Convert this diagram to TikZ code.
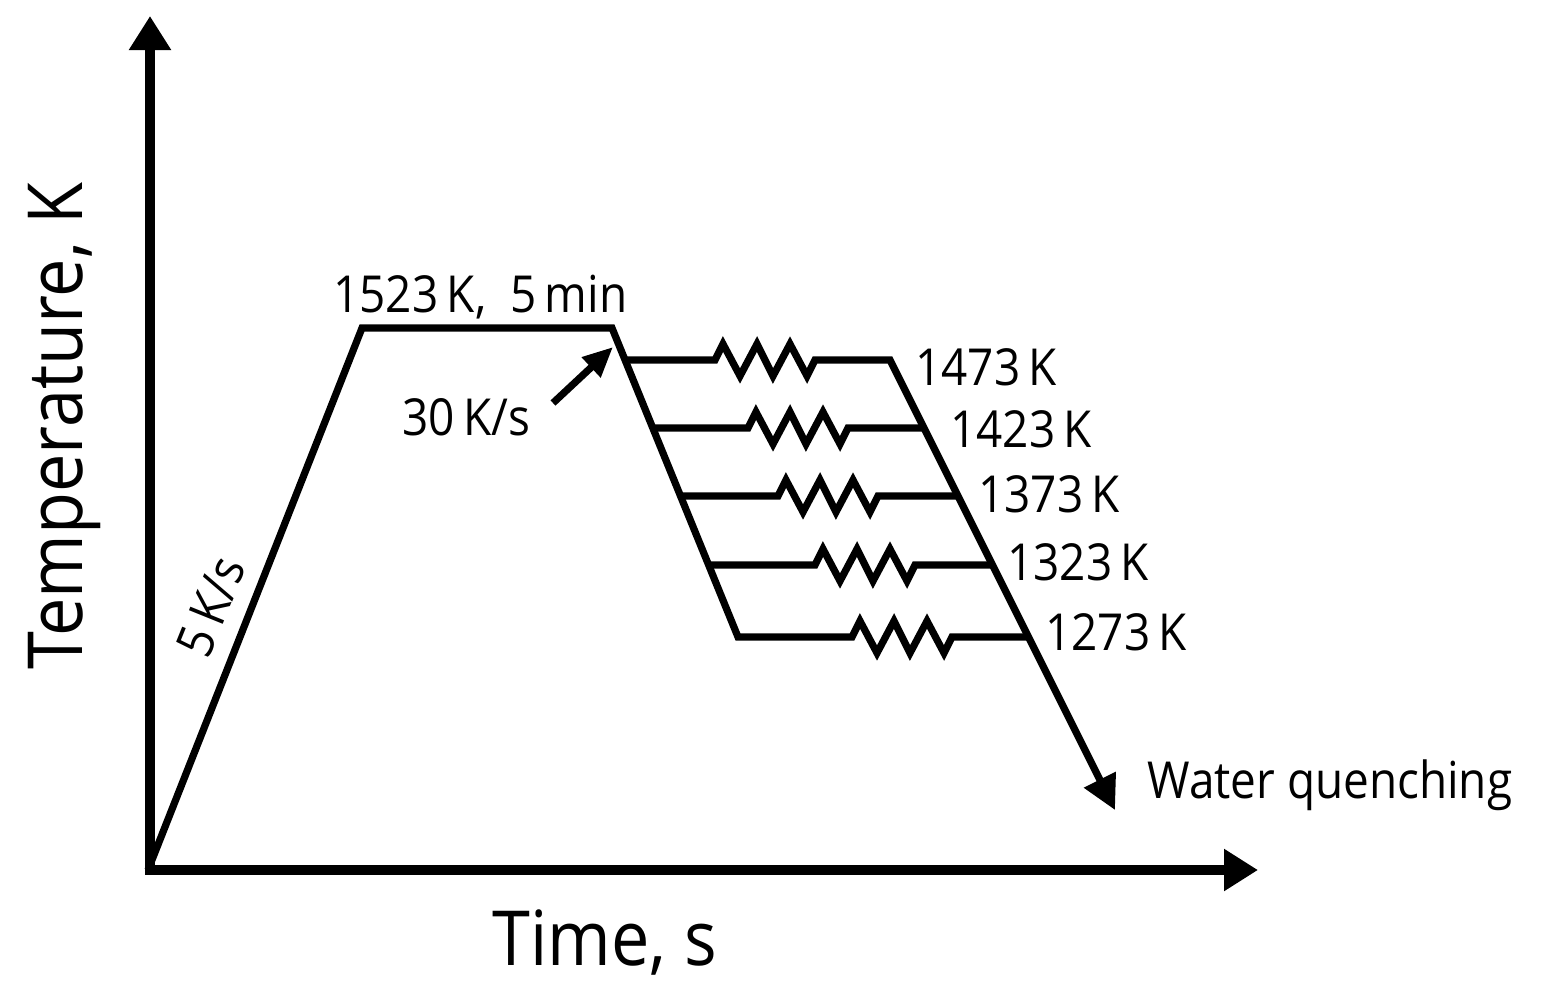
\documentclass[tikz,border=0pt]{standalone}
\usepackage{fontspec}
\setmainfont{Open Sans}[FakeStretch=0.9]
\usetikzlibrary{arrows.meta}
\newcommand\zigzag{-- ++(8,-16) -- ++(17,32) -- ++(17,-32) -- ++(16,32) -- ++(17,-32) -- ++(17,32) -- ++(8,-16)}
\begin{document}
\begin{tikzpicture}[x=0.5pt,y=-0.5pt,
  curve/.style={line width=3.6pt, line join=miter},
  axis/.style={line width=5pt, line join=miter},
  lbl/.style={font=\fontsize{25.5}{30}\selectfont, inner sep=0pt},
  big/.style={font=\fontsize{38}{42}\selectfont, inner sep=0pt}]
\useasboundingbox (0,0) rectangle (1545,997);
% axes
\coordinate (ytip) at (150,16);
\coordinate (xtip) at (1258,870);
\draw[axis, {Triangle[length=17pt,width=20pt]}-{Triangle[length=17pt,width=20pt]}] (ytip) |- (xtip);
% key points
\coordinate (O) at (148,870);
\coordinate (A) at (362,328);
\coordinate (B) at (612,328);
\coordinate (C) at (738,637);
\coordinate (I1) at (625,360);
\coordinate (I2) at (653,428);
\coordinate (I3) at (681,496);
\coordinate (I4) at (709,565);
\coordinate (Z1) at (715,360);
\coordinate (Z2) at (748,428);
\coordinate (Z3) at (778,496);
\coordinate (Z4) at (815,565);
\coordinate (Z5) at (852,637);
\coordinate (O1) at (890,360);
\coordinate (O2) at (923.6,428);
\coordinate (O3) at (957,496);
\coordinate (O4) at (991.4,565);
\coordinate (O5) at (1027,637);
\coordinate (Q) at (1115,810);
% heating, holding, cooling
\draw[curve] (O) -- (A) -- (B) -- (C) -- (Z5) \zigzag -- (O5);
\draw[curve, -{Triangle[length=17pt,width=17pt]}] (I1) -- (Z1) \zigzag -- (O1) -- (Q);
\draw[curve] (I2) -- (Z2) \zigzag -- (O2);
\draw[curve] (I3) -- (Z3) \zigzag -- (O3);
\draw[curve] (I4) -- (Z4) \zigzag -- (O4);
% labels
\node[lbl, anchor=base west] (hold) at (333,312) {1523\,K,~~5\,min};
\node[lbl, anchor=base west] (r30) at (402,435) {30\,K/s};
\coordinate (r30s) at (553,403);
\coordinate (r30t) at (613,347);
\draw[curve, -{Triangle[length=15pt,width=13pt]}] (r30s) -- (r30t);
\node[lbl, rotate=68] (r5) at (211,607) {5\,K/s};
\node[lbl, anchor=base west] (t1473) at (915,385) {1473\,K};
\node[lbl, anchor=base west] (t1423) at (950,447) {1423\,K};
\node[lbl, anchor=base west] (t1373) at (978,512) {1373\,K};
\node[lbl, anchor=base west] (t1323) at (1007,580) {1323\,K};
\node[lbl, anchor=base west] (t1273) at (1045,650) {1273\,K};
\node[lbl, anchor=base west] (wq) at (1147,798) {Water quenching};
\node[big, anchor=base] (xlab) at (605,965) {Time, s};
\node[big, anchor=base, rotate=90] (ylab) at (82,426) {Temperature, K};
\end{tikzpicture}
\end{document}
